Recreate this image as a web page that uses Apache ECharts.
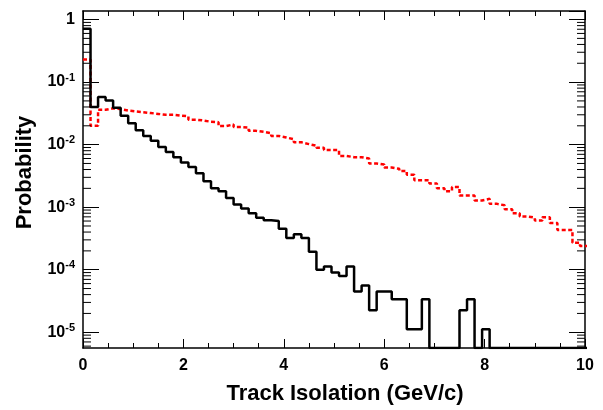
<!DOCTYPE html>
<html><head><meta charset="utf-8">
<script src="https://cdn.jsdelivr.net/npm/echarts@6/dist/echarts.min.js"></script>
<style>html,body{margin:0;padding:0;background:#fff}#c{width:603px;height:410px}</style>
</head><body><div id="c"></div>
<script>
// Histogram binning (GeV/c)
const BIN_WIDTH = 0.15;
// Black solid histogram (one value per bin, starting at 0)
const blackHist = [
  0.71, 0.040, 0.058, 0.051, 0.039, 0.029, 0.022, 0.017, 0.0138, 0.0115,
  0.0092, 0.0076, 0.0063, 0.0052, 0.0044, 0.0035, 0.0026, 0.0020, 0.0018, 0.0014,
  0.0011, 0.00095, 0.0008, 0.00068, 0.00062, 0.00060, 0.00045, 0.00032, 0.00037, 0.00032,
  0.000194, 0.000100, 0.000113, 0.000090, 0.000079, 0.000113, 0.000045, 0.000056, 0.0000224, 0.000045,
  0.000045, 0.0000336, 0.0000336, 0.0000112, 0.0000112, 0.0000336, 0, 0, 0, 0,
  0.0000224, 0.0000336, 0, 0.0000112, 0, 0, 0, 0, 0, 0,
  0, 0, 0, 0, 0, 0, 0
];
// Red dashed histogram
const redHist = [
  0.23, 0.020, 0.036, 0.038, 0.037, 0.035, 0.034, 0.033, 0.032, 0.031,
  0.030, 0.030, 0.029, 0.0284, 0.0251, 0.0243, 0.0232, 0.0229, 0.0198, 0.021,
  0.0191, 0.0187, 0.0166, 0.0160, 0.0152, 0.0138, 0.0130, 0.0122, 0.0109, 0.0102,
  0.0096, 0.0089, 0.0082, 0.0082, 0.0066, 0.0063, 0.0063, 0.0060, 0.0050, 0.0048,
  0.0043, 0.0041, 0.0038, 0.0033, 0.0027, 0.0027, 0.0024, 0.0020, 0.0018, 0.0021,
  0.00153, 0.00153, 0.00128, 0.00136, 0.00113, 0.00107, 0.00093, 0.00080, 0.00071, 0.00068,
  0.00061, 0.00069, 0.00056, 0.00043, 0.00043, 0.00027, 0.00024
];
const xTickLabels = ['0', '2', '4', '6', '8', '10'];
const yDecades = [1e-5, 1e-4, 1e-3, 1e-2, 1e-1, 1];
const X_MIN = 0, X_MAX = 10, X_STEP = 2;
const Y_MIN = 5.6e-6, Y_MAX = 1.37;
const xTitle = 'Track Isolation (GeV/c)';
const yTitle = 'Probability';

const FONT = '"Liberation Sans", Arial, Helvetica, sans-serif';

function stepData(vals) {
  const fl = v => (v > 0 ? v : Y_MIN); // empty bins sit on the axis floor
  const d = vals.map((v, i) => [i * BIN_WIDTH, fl(v)]);
  d.push([vals.length * BIN_WIDTH, fl(vals[vals.length - 1])]);
  return d;
}
// minor log ticks 2..9 x 10^n
const minorTicks = [];
[1e-6].concat(yDecades).forEach(dec => { for (let k = 2; k <= 9; k++) minorTicks.push([0, k * dec]); });

const chart = echarts.init(document.getElementById('c'), null, {renderer: 'canvas'});
const xAxisBase = {
  type: 'value', min: X_MIN, max: X_MAX, interval: X_STEP,
  axisLine: {show: true, onZero: false, lineStyle: {color: '#000', width: 1.5}},
  axisTick: {show: true, inside: true, length: 9, lineStyle: {color: '#000', width: 1}},
  minorTick: {show: true, splitNumber: 4, length: 5, lineStyle: {color: '#000', width: 1}},
  splitLine: {show: false}
};
const yAxisBase = {
  type: 'log', min: Y_MIN, max: Y_MAX, logBase: 10,
  axisLine: {show: true, onZero: false, lineStyle: {color: '#000', width: 1.5}},
  axisTick: {show: true, inside: true, length: 16, lineStyle: {color: '#000', width: 1}},
  splitLine: {show: false}
};
chart.setOption({
  animation: false,
  backgroundColor: '#fff',
  grid: {left: 83, right: 18, top: 11, bottom: 56},
  xAxis: [
    Object.assign({}, xAxisBase, {
      position: 'bottom',
      name: xTitle, nameLocation: 'middle', nameGap: 35,
      nameTextStyle: {fontFamily: FONT, fontWeight: 'bold', fontSize: 22, color: '#000', padding: [0, 0, 0, 22]},
      axisLabel: {show: true, margin: 10, fontFamily: FONT, fontWeight: 'bold', fontSize: 16, color: '#000',
        formatter: v => xTickLabels[Math.round((v - X_MIN) / X_STEP)] || ''}
    }),
    Object.assign({}, xAxisBase, {position: 'top', axisLabel: {show: false}})
  ],
  yAxis: [
    Object.assign({}, yAxisBase, {
      position: 'left',
      name: yTitle, nameLocation: 'middle', nameGap: 47, nameRotate: 90,
      nameTextStyle: {fontFamily: FONT, fontWeight: 'bold', fontSize: 22, color: '#000', padding: [0, 0, 0, 14]},
      axisLabel: {
        show: true, margin: 8, showMinLabel: false, showMaxLabel: false,
        formatter: v => {
          const e = Math.round(Math.log10(v));
          if (Math.abs(Math.log10(v) - e) > 1e-6) return '';
          return e === 0 ? '{m|1}' : '{m|10}{s|' + e + '}';
        },
        rich: {
          m: {fontFamily: FONT, fontWeight: 'bold', fontSize: 16, color: '#000'},
          s: {fontFamily: FONT, fontWeight: 'bold', fontSize: 11, color: '#000', padding: [0, 0, 9, 0]}
        }
      }
    }),
    Object.assign({}, yAxisBase, {position: 'right', axisLabel: {show: false}})
  ],
  series: [
    {
      type: 'line', name: 'red', data: stepData(redHist), step: 'end', showSymbol: false, clip: true,
      xAxisIndex: 0, yAxisIndex: 0,
      lineStyle: {color: '#ff0000', width: 2.5, type: [4, 2.5]}, z: 3
    },
    {
      type: 'line', name: 'black', data: stepData(blackHist), step: 'end', showSymbol: false, clip: true,
      xAxisIndex: 0, yAxisIndex: 0,
      lineStyle: {color: '#000', width: 2.5}, z: 4
    },
    {
      type: 'custom', name: 'minorTicks', data: minorTicks, xAxisIndex: 0, yAxisIndex: 0, silent: true, z: 5,
      renderItem: (params, api) => {
        const p = api.coord([0, api.value(1)]);
        const cs = params.coordSys;
        const y = p[1];
        if (!(y >= cs.y && y <= cs.y + cs.height)) return null;
        return {type: 'group', children: [
          {type: 'line', shape: {x1: cs.x, y1: y, x2: cs.x + 8, y2: y}, style: {stroke: '#000', lineWidth: 1}},
          {type: 'line', shape: {x1: cs.x + cs.width - 8, y1: y, x2: cs.x + cs.width, y2: y}, style: {stroke: '#000', lineWidth: 1}}
        ]};
      }
    }
  ]
});
</script></body></html>
